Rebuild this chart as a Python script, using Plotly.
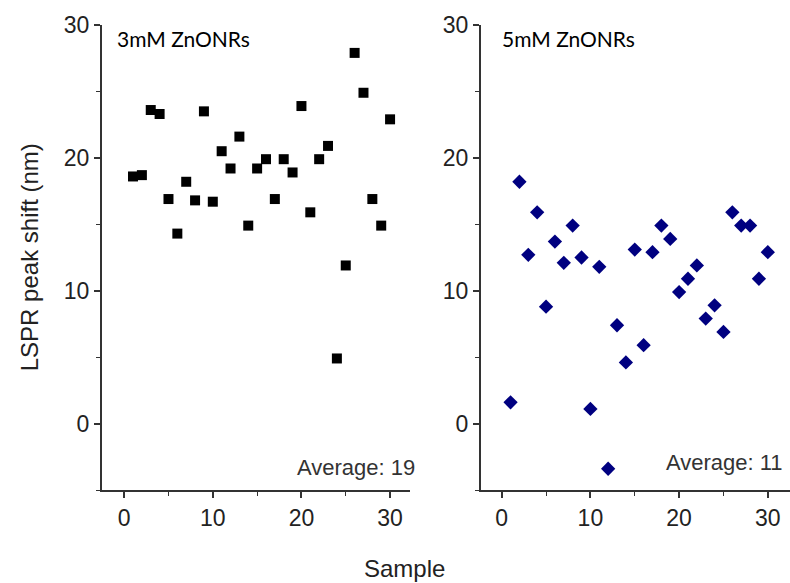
import plotly.graph_objects as go

# ---- data ----
samples = list(range(1, 31))
shift_3mM = [18.6, 18.7, 23.6, 23.3, 16.9, 14.3, 18.2, 16.8, 23.5, 16.7,
             20.5, 19.2, 21.6, 14.9, 19.2, 19.9, 16.9, 19.9, 18.9, 23.9,
             15.9, 19.9, 20.9, 4.9, 11.9, 27.9, 24.9, 16.9, 14.9, 22.9]
shift_5mM = [1.6, 18.2, 12.7, 15.9, 8.8, 13.7, 12.1, 14.9, 12.5, 1.1,
             11.8, -3.4, 7.4, 4.6, 13.1, 5.9, 12.9, 14.9, 13.9, 9.9,
             10.9, 11.9, 7.9, 8.9, 6.9, 15.9, 14.9, 14.9, 10.9, 12.9]
label_3mM = "3mM ZnONRs"
label_5mM = "5mM ZnONRs"
avg_3mM = "Average: 19"
avg_5mM = "Average: 11"
y_title = "LSPR peak shift (nm)"
x_title = "Sample"

FONT = "Arial"
AX = "#333333"

fig = go.Figure()
fig.add_trace(go.Scatter(x=samples, y=shift_3mM, mode="markers",
                         marker=dict(symbol="square", size=10, color="black"),
                         xaxis="x", yaxis="y", showlegend=False))
fig.add_trace(go.Scatter(x=samples, y=shift_5mM, mode="markers",
                         marker=dict(symbol="diamond", size=11, color="#000080"),
                         xaxis="x2", yaxis="y2", showlegend=False))

def xax(domain, rng, anchor):
    return dict(domain=domain, range=rng, anchor=anchor, showgrid=False, zeroline=False,
                showline=True, linecolor=AX, linewidth=2, ticks="outside", ticklen=6,
                tickwidth=1.5, tickcolor=AX, dtick=10, tick0=0,
                minor=dict(ticks="outside", ticklen=4, dtick=5, tickcolor=AX, tickwidth=1.2),
                tickfont=dict(family=FONT, size=23, color="#222"))

def yax(domain_anchor):
    return dict(range=[-5, 30], anchor=domain_anchor, showgrid=False, zeroline=False,
                showline=True, linecolor=AX, linewidth=2, ticks="outside", ticklen=6,
                tickwidth=1.5, tickcolor=AX, dtick=10, tick0=0,
                minor=dict(ticks="outside", ticklen=4, dtick=5, tickcolor=AX, tickwidth=1.2),
                tickfont=dict(family=FONT, size=23, color="#222"))

fig.update_layout(
    width=790, height=583,
    margin=dict(l=102, r=0, t=25, b=93),
    paper_bgcolor="white", plot_bgcolor="white",
    xaxis=xax([0, 0.4477], [-2.5, 32.25], "y"),
    xaxis2=xax([0.5509, 1.0], [-2.33, 32.5], "y2"),
    yaxis=yax("x"),
    yaxis2=yax("x2"),
)

anns = [
    dict(text=label_3mM, xref="x domain", yref="y domain", x=0.042, y=0.972,
         xanchor="left", yanchor="middle", font=dict(family="Lato", size=21, color="black")),
    dict(text=label_5mM, xref="x2 domain", yref="y2 domain", x=0.0615, y=0.972,
         xanchor="left", yanchor="middle", font=dict(family="Lato", size=21, color="black")),
    dict(text=avg_3mM, xref="x domain", yref="y domain", x=1.023, y=0.049,
         xanchor="right", yanchor="middle", font=dict(family=FONT, size=22, color="#333")),
    dict(text=avg_5mM, xref="x2 domain", yref="y2 domain", x=0.984, y=0.060,
         xanchor="right", yanchor="middle", font=dict(family=FONT, size=22, color="#333")),
    dict(text=y_title, xref="paper", yref="paper", x=-0.105, y=0.5, textangle=-90,
         xanchor="center", yanchor="middle", font=dict(family=FONT, size=24, color="#222")),
    dict(text=x_title, xref="paper", yref="paper", x=0.44, y=-0.168,
         xanchor="center", yanchor="middle", font=dict(family=FONT, size=24, color="#222")),
]
for a in anns:
    a["showarrow"] = False
fig.update_layout(annotations=anns)

fig.write_html("out.html")
